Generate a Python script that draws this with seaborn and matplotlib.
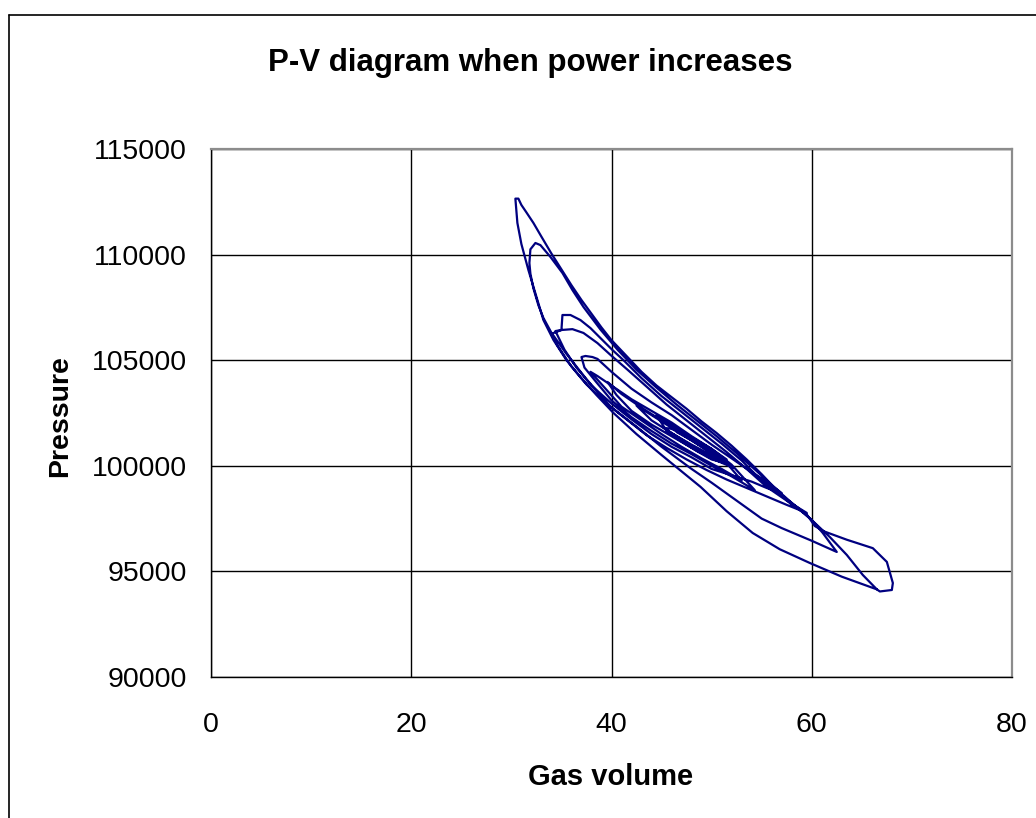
import numpy as np
import pandas as pd
import matplotlib
matplotlib.use("Agg")
import matplotlib.pyplot as plt
import seaborn as sns
from matplotlib.lines import Line2D

# ---------------- data ----------------
title = "P-V diagram when power increases"
x_label = "Gas volume"
y_label = "Pressure"
x_ticks = [0, 20, 40, 60, 80]
y_ticks = [90000, 95000, 100000, 105000, 110000, 115000]

# trace, in time order: small loops near the centre growing outward
s0_v = [46.5, 48.0, 49.5, 50.8, 49.5, 48.0, 46.5, 45.2, 46.0, 47.5, 49.0, 50.5, 51.2, 50.0, 48.5,
        47.0, 45.5, 44.5]
s0_p = [101600, 101200, 100750, 100300, 100550, 100950, 101400, 101800, 101750, 101400, 100950,
        100500, 100150, 100300, 100700, 101150, 101650, 102400]

s1_v = [46.0, 48.0, 50.0, 51.5, 50.0, 48.0, 46.0, 44.0, 42.5]
s1_p = [101950, 101350, 100800, 100300, 100500, 101000, 101550, 102150, 102850]

s2_v = [44.0, 46.0, 48.0, 50.0, 52.2, 50.0, 48.0, 46.0, 44.0, 42.0, 40.5, 39.6]
s2_p = [102400, 101800, 101200, 100600, 99900, 100350, 100850, 101400, 101950, 102600, 103350, 103970]

s3_v = [41.0, 43.0, 45.0, 47.0, 49.0, 51.0, 53.0, 51.0, 49.0, 47.0, 45.0, 43.0, 41.0, 39.5, 37.9]
s3_p = [103400, 102750, 102150, 101600, 101050, 100400, 99300, 99850, 100350, 100900, 101500, 102150,
        102800, 103600, 104450]

s4_v = [38.6, 40.0, 42.0, 44.0, 46.0, 48.0, 50.0, 52.0, 54.3, 52.0, 50.0, 48.0, 46.0, 44.0, 42.0, 40.0,
        38.5, 37.3, 37.0]
s4_p = [104250, 103800, 103150, 102600, 102050, 101400, 100800, 100050, 98850, 99500, 100000, 100550,
        101050, 101650, 102300, 103100, 103950, 104650, 105150]

s5_v = [37.4, 38.1, 38.6, 40.0, 42.0, 44.0, 46.0, 48.0, 50.0, 52.0, 54.0, 55.5, 57.0, 55.5, 54.0, 52.0,
        50.0, 48.0, 46.0, 44.0, 42.0, 40.0, 38.0, 36.5, 35.3, 34.4]
s5_p = [105200, 105150, 105060, 104450, 103650, 103000, 102400, 101700, 101000, 100350, 99700, 99250,
        98710, 98950, 99250, 99550, 99850, 100400, 100900, 101500, 102200, 102950, 103800, 104650,
        105500, 106380]

s6_v = [35.0, 36.1, 37.2, 38.6, 39.9, 41.6, 43.5, 45.5, 47.5, 49.5, 51.5, 53.5, 55.5, 57.5, 59.5, 57.5,
        55.5, 53.5, 51.5, 49.5, 47.5, 45.5, 43.5, 41.5, 39.5, 37.5, 36.0, 34.6, 34.0, 35.0, 35.1]
s6_p = [106430, 106470, 106290, 105810, 105250, 104550, 103750, 102900, 102150, 101400, 100650, 99850,
        99000, 98350, 97770, 98150, 98550, 98950, 99350, 99800, 100300, 100850, 101450, 102200, 102950,
        103850, 104700, 105700, 106250, 106430, 107140]

s7_v = [35.9, 36.9, 37.9, 38.9, 40.1, 41.2, 43.0, 45.0, 47.0, 49.0, 51.0, 53.0, 55.0, 57.0, 58.8, 60.0,
        61.1, 62.5, 60.0, 57.0, 55.0, 52.5, 50.0, 48.0, 45.0, 42.5, 39.9, 37.5, 35.5, 34.0, 33.2, 32.7,
        32.2, 31.9, 31.8, 31.9, 32.4]
s7_p = [107140, 106900, 106520, 106050, 105480, 105000, 104150, 103300, 102550, 101800, 101050, 100250,
        99300, 98600, 97950, 97430, 96820, 95920, 96450, 97050, 97500, 98350, 99200, 99850, 100900,
        101850, 102800, 104100, 105300, 106300, 107000, 107600, 108400, 109100, 109600, 110250, 110550]

s8_v = [32.9, 33.9, 35.1, 36.1, 37.2, 38.9, 40.6, 42.5, 44.5, 46.5, 48.5, 50.5, 52.5, 54.5, 56.8, 58.8,
        60.0, 61.8, 63.5, 65.1, 66.5, 63.0, 59.8, 56.8, 54.1, 51.5, 48.9, 45.0, 42.5, 40.2, 38.5, 36.9,
        35.5, 34.2, 33.2, 32.6, 31.7, 31.0, 30.6, 30.4]
s8_p = [110450, 109890, 109130, 108320, 107520, 106450, 105500, 104550, 103700, 102900, 102150, 101400,
        100600, 99750, 98750, 97910, 97430, 96630, 95780, 94830, 94150, 94750, 95400, 96050, 96820,
        97850, 99000, 100510, 101500, 102500, 103350, 104200, 105000, 105960, 106900, 107850, 109270,
        110500, 111500, 112650]

s9_v = [30.7, 31.0, 31.5, 32.2, 33.0, 34.0, 35.0, 36.0, 37.0, 38.0, 39.0, 40.0, 41.5, 43.0, 44.5, 46.0,
        47.5, 49.0, 50.5, 52.0, 53.5, 55.0, 56.8, 58.0, 59.5, 60.3, 61.2, 63.5, 66.1, 67.5, 68.1, 68.0,
        66.8, 66.5]
s9_p = [112650, 112350, 112000, 111500, 110850, 110050, 109300, 108550, 107850, 107200, 106550, 105950,
        105200, 104450, 103800, 103250, 102700, 102100, 101550, 100950, 100300, 99600, 98700, 98150,
        97700, 97150, 96900, 96500, 96100, 95450, 94450, 94120, 94050, 94150]

volume = s0_v + s1_v + s2_v + s3_v + s4_v + s5_v + s6_v + s7_v + s8_v + s9_v
pressure = s0_p + s1_p + s2_p + s3_p + s4_p + s5_p + s6_p + s7_p + s8_p + s9_p

df = pd.DataFrame({x_label: volume, y_label: pressure})

# ---------------- drawing ----------------
sns.set_theme(style="white")
plt.rcParams["font.family"] = ["Liberation Sans", "DejaVu Sans"]

W, H = 1036, 818
fig = plt.figure(figsize=(W / 100, H / 100), dpi=100)
fig.patch.set_facecolor("white")

left, right, top, bottom = 211, 1012, 149, 677
ax = fig.add_axes([left / W, 1 - bottom / H, (right - left) / W, (bottom - top) / H])
ax.set_facecolor("white")

sns.lineplot(data=df, x=x_label, y=y_label, sort=False, estimator=None,
             color="#000080", linewidth=1.6, ax=ax)

ax.set_xlim(0, 80)
ax.set_ylim(90000, 115000)
ax.set_xticks(x_ticks)
ax.set_yticks(y_ticks)
ax.set_yticklabels([str(t) for t in y_ticks])
ax.set_xticklabels([str(t) for t in x_ticks])

ax.grid(True, color="black", linewidth=1.0)
ax.set_axisbelow(True)

ax.tick_params(axis="both", which="major", direction="out", length=7.2, width=1.0,
               color="black", labelsize=20.5, labelcolor="black")
ax.tick_params(axis="y", pad=10)
ax.tick_params(axis="x", pad=18)

for side in ["left", "bottom"]:
    ax.spines[side].set_color("black")
    ax.spines[side].set_linewidth(1.0)
for side in ["top", "right"]:
    ax.spines[side].set_color("#8c8c8c")
    ax.spines[side].set_linewidth(1.6)

ax.set_xlabel(x_label, fontsize=21, fontweight="bold", color="black", va="baseline")
ax.xaxis.set_label_coords(611 / W, 1 - 785 / H, transform=fig.transFigure)
ax.set_ylabel(y_label, fontsize=20.5, fontweight="bold", color="black", va="baseline")
ax.yaxis.set_label_coords(67 / W, 1 - 416 / H, transform=fig.transFigure)

ax.set_title(title, fontsize=22.5, fontweight="bold", color="black",
             x=(530 - left) / (right - left), y=(bottom - 71.5) / (bottom - top),
             va="baseline", pad=0)

# outer chart-area border (cut by the image edges on right and bottom)
fig.add_artist(Line2D([9 / W, 1.0], [1 - 15 / H, 1 - 15 / H], transform=fig.transFigure,
                      color="black", linewidth=1.2))
fig.add_artist(Line2D([9 / W, 9 / W], [1 - 15 / H, 0.0], transform=fig.transFigure,
                      color="black", linewidth=1.2))

fig.savefig("out.png", dpi=100, facecolor="white")
